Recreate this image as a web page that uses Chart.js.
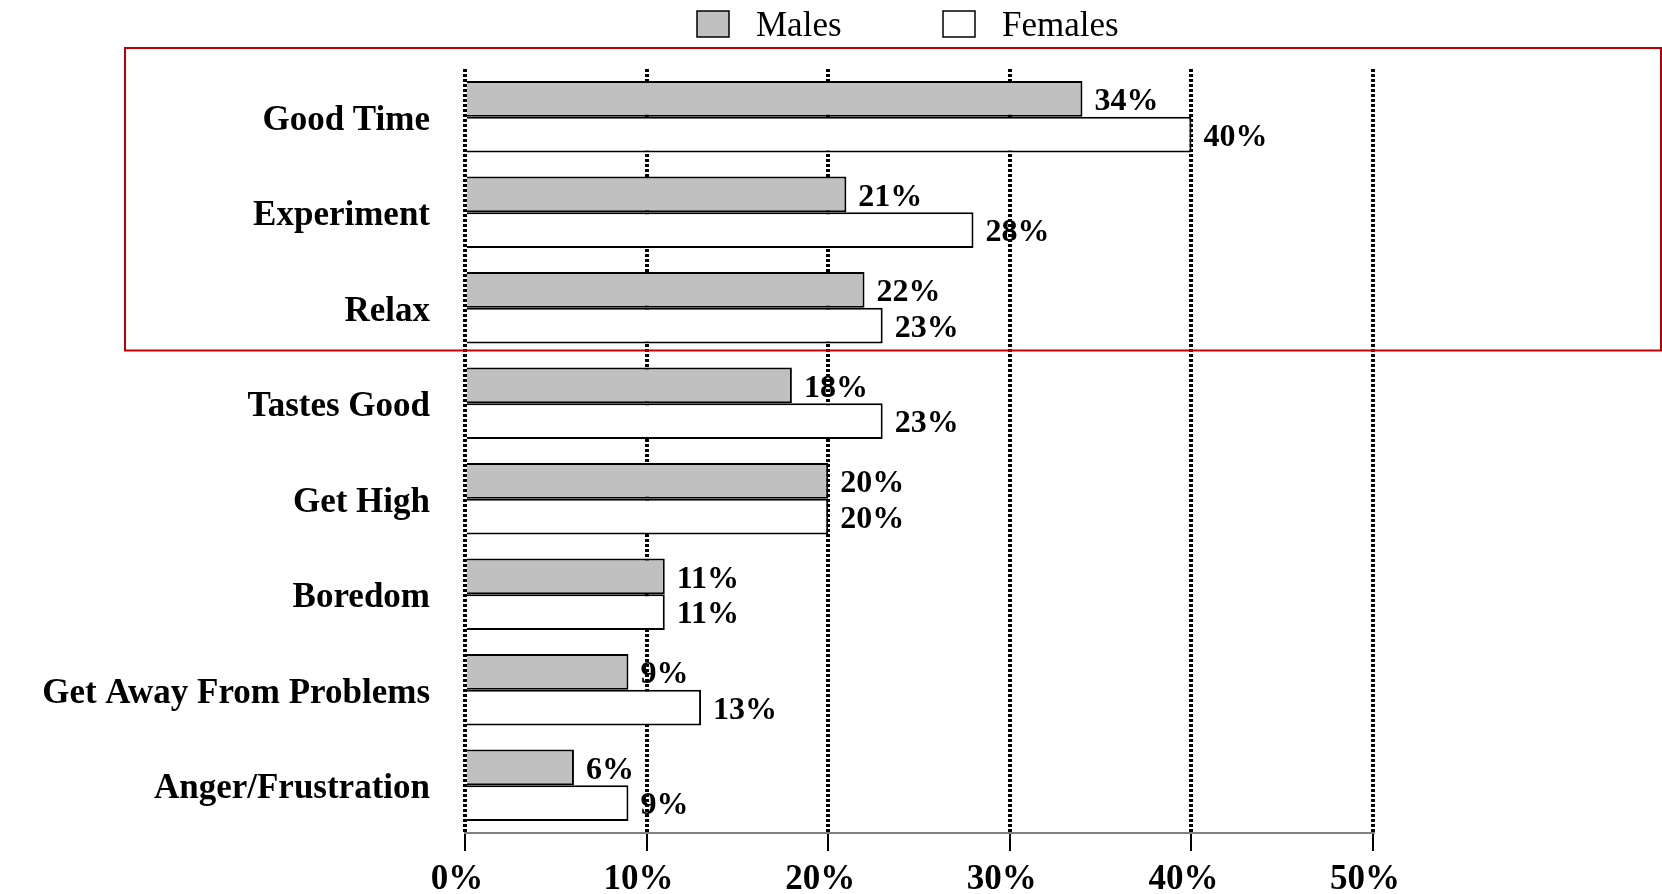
<!DOCTYPE html>
<html><head><meta charset="utf-8">
<script src="https://cdn.jsdelivr.net/npm/chart.js@4.4.1/dist/chart.umd.min.js"></script>
<style>html,body{margin:0;padding:0;background:#fff}#wrap{width:1662px;height:894px;position:relative}</style>
</head><body><div id="wrap"><canvas id="c" width="1662" height="894"></canvas></div>
<script>
const categories = ["Good Time","Experiment","Relax","Tastes Good","Get High","Boredom","Get Away From Problems","Anger/Frustration"];
const seriesNames = ["Males","Females"];
const malesValues = [34,21,22,18,20,11,9,6];
const femalesValues = [40,28,23,23,20,11,13,9];
const xTickValues = [0,10,20,30,40,50];
const highlightedCategories = ["Good Time","Experiment","Relax"];

const SERIF = "'Liberation Serif','Times New Roman',serif";

const overlayPlugin = {
  id: 'overlay',
  afterDatasetsDraw(chart) {
    const ctx = chart.ctx;
    ctx.save();
    ctx.font = "bold 32px " + SERIF;
    ctx.fillStyle = '#000';
    ctx.textBaseline = 'middle';
    ctx.textAlign = 'left';
    chart.data.datasets.forEach((ds, di) => {
      const meta = chart.getDatasetMeta(di);
      meta.data.forEach((bar, i) => {
        ctx.fillText(ds.data[i] + '%', bar.x + 12, bar.y + 3);
      });
    });
    ctx.restore();
  },
  afterDraw(chart) {
    const ctx = chart.ctx;
    const y = chart.scales.y;
    // legend
    ctx.save();
    const legendX = [697, 943];
    chart.data.datasets.forEach((ds, di) => {
      const bx = legendX[di];
      ctx.fillStyle = ds.backgroundColor;
      ctx.fillRect(bx, 11, 32, 26);
      ctx.strokeStyle = '#000';
      ctx.lineWidth = 1.5;
      ctx.strokeRect(bx, 11, 32, 26);
      ctx.fillStyle = '#000';
      ctx.font = "35px " + SERIF;
      ctx.textBaseline = 'middle';
      ctx.textAlign = 'left';
      ctx.fillText(ds.label, bx + 59, 27);
    });
    // highlight box around top categories
    const band = (y.bottom - y.top) / categories.length;
    const lastIdx = categories.indexOf(highlightedCategories[highlightedCategories.length - 1]);
    const firstIdx = categories.indexOf(highlightedCategories[0]);
    const top = y.getPixelForValue(firstIdx) - band / 2 - 21;
    const bottom = y.getPixelForValue(lastIdx) + band / 2 - 5;
    ctx.strokeStyle = '#c00000';
    ctx.lineWidth = 2;
    ctx.strokeRect(125, top, chart.width - 126, bottom - top);
    ctx.restore();
  }
};

new Chart(document.getElementById('c'), {
  type: 'bar',
  data: {
    labels: categories,
    datasets: [
      { label: seriesNames[0], data: malesValues, backgroundColor: '#c0c0c0', borderColor: '#000', borderWidth: 2,
        categoryPercentage: 0.75, barPercentage: 1.0 },
      { label: seriesNames[1], data: femalesValues, backgroundColor: '#ffffff', borderColor: '#000', borderWidth: 2,
        categoryPercentage: 0.75, barPercentage: 1.0 }
    ]
  },
  options: {
    indexAxis: 'y',
    responsive: false,
    animation: false,
    devicePixelRatio: 1,
    layout: { padding: { top: 69, right: 289, left: 0, bottom: 0 } },
    plugins: { legend: { display: false }, tooltip: { enabled: false } },
    scales: {
      x: {
        type: 'linear', min: 0, max: 50,
        afterBuildTicks: (s) => { s.ticks = xTickValues.map(v => ({ value: v })); },
        afterFit: (s) => { s.height = 61; },
        ticks: { callback: (v) => v + '%', color: '#000', padding: 8, labelOffset: -8,
          font: { family: SERIF, size: 35, weight: 'bold' }, maxRotation: 0, autoSkip: false },
        grid: { color: '#000', lineWidth: 4, tickLength: 18, tickColor: '#000', tickWidth: 2, tickBorderDash: [] },
        border: { display: true, color: '#808080', width: 2, dash: [3, 2] }
      },
      y: {
        type: 'category',
        afterFit: (s) => { s.width = 465; },
        grid: { display: false },
        border: { display: false },
        ticks: { color: '#000', padding: 27, labelOffset: 4, font: { family: SERIF, size: 35, weight: 'bold' } }
      }
    }
  },
  plugins: [overlayPlugin]
});
</script>
</body></html>
